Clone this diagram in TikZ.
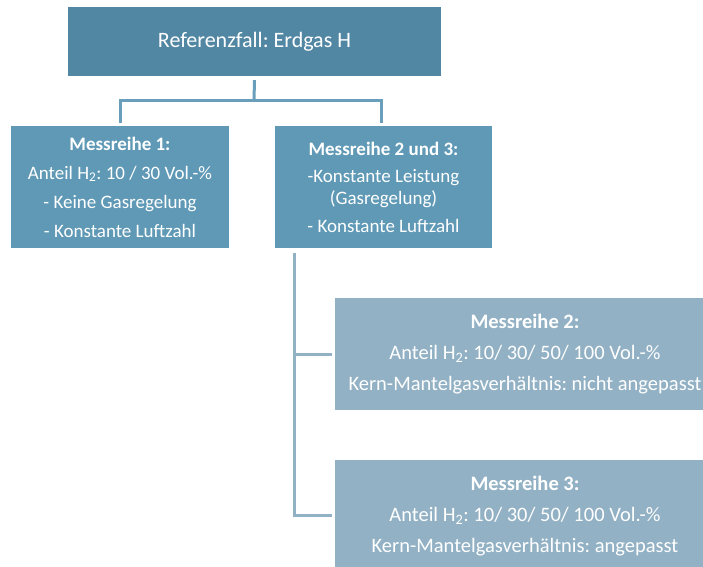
\documentclass[tikz,border=0pt]{standalone}
\usepackage{fontspec}
\setmainfont{Carlito}
\frenchspacing
\definecolor{topblue}{RGB}{82,135,164}
\definecolor{midblue}{RGB}{95,153,182}
\definecolor{lowblue}{RGB}{146,177,196}
\definecolor{lineA}{RGB}{106,159,188}
\definecolor{lineB}{RGB}{146,177,196}
\tikzset{
  box/.style={rectangle, inner sep=0pt, text=white, align=center},
  conA/.style={draw=lineA, line width=3pt},
  conB/.style={draw=lineB, line width=3pt},
}
\begin{document}
\begin{tikzpicture}[x=1pt,y=-1pt]
\useasboundingbox (0,0) rectangle (703,566);
\clip (0,0) rectangle (703,566);
\node[box, fill=topblue, minimum width=373pt, minimum height=69pt, font=\fontsize{22}{26}\selectfont\frenchspacing] (ref) at (254.5,41.5) {Referenzfall: Erdgas H};
\node[box, fill=midblue, minimum width=218pt, minimum height=122pt, font=\fontsize{19}{29}\selectfont\frenchspacing] (m1) at (120,187)
  {\textbf{Messreihe 1:}\\Anteil H\textsubscript{2}: 10 / 30 Vol.-\%\\- Keine Gasregelung\\- Konstante Luftzahl};
\node[box, fill=midblue, minimum width=217pt, minimum height=122pt, font=\fontsize{19}{22}\selectfont\frenchspacing] (m23) at (383.5,187)
  {\textbf{Messreihe 2 und 3:}\\[5pt]-Konstante Leistung\\(Gasregelung)\\[6pt]- Konstante Luftzahl};
\node[box, fill=lowblue, minimum width=380pt, minimum height=112pt, font=\fontsize{20.5}{31}\selectfont\frenchspacing] (m2) at (525,354)
  {\textbf{Messreihe 2:}\\Anteil H\textsubscript{2}: 10/ 30/ 50/ 100 Vol.-\%\\Kern-Mantelgasverhältnis: nicht angepasst};
\node[box, fill=lowblue, minimum width=380pt, minimum height=112pt, font=\fontsize{20.5}{31}\selectfont\frenchspacing] (m3) at (525,516)
  {\textbf{Messreihe 3:}\\Anteil H\textsubscript{2}: 10/ 30/ 50/ 100 Vol.-\%\\Kern-Mantelgasverhältnis: angepasst};
\coordinate (j) at (254,100);
\draw[conA] ([yshift=-4pt]ref.south) -- (j);
\draw[conA] (m1.north |- 0,123) -- (m1.north |- j) -- (381,100) -- (381,123);
\coordinate (t) at (294,253);
\draw[conB] (t) -- (294,515) -- ([xshift=-3pt]m3.west |- 0,515);
\draw[conB] (294,354) -- ([xshift=-3pt]m2.west);
\end{tikzpicture}
\end{document}
